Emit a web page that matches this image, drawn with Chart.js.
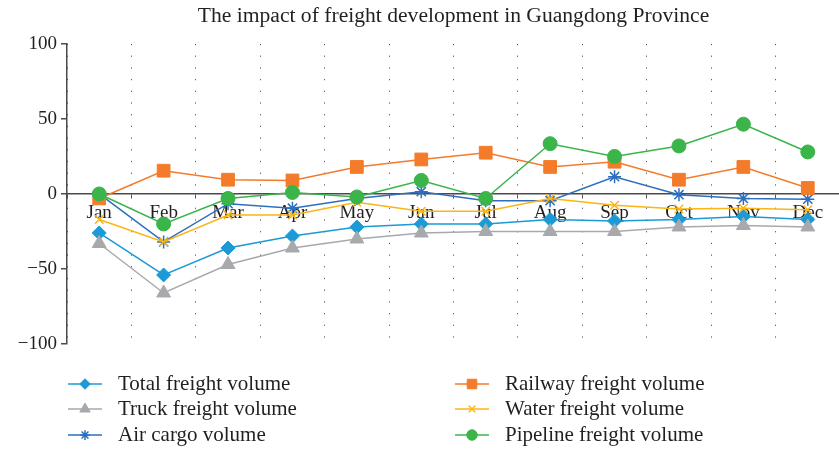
<!DOCTYPE html>
<html>
<head>
<meta charset="utf-8">
<script src="https://cdn.jsdelivr.net/npm/chart.js@4/dist/chart.umd.min.js"></script>
<style>
    html, body { margin: 0; padding: 0; background: #fff; overflow: hidden; }
    #wrap { width: 850px; height: 449px; }
</style>
</head>
<body>
<div id="wrap"><canvas id="freightChart" width="850" height="449"></canvas></div>
<script>
// Dữ liệu
const months = ["Jan", "Feb", "Mar", "Apr", "May", "Jun", "Jul", "Aug", "Sep", "Oct", "Nov", "Dec"];
const totalFreight = [-26, -54, -36, -28, -22, -20, -20, -17, -18, -17, -15, -17];
const truckFreight = [-33, -66, -47, -36, -30, -26, -25, -25, -25, -22, -21, -22];
const airCargo = [0, -32, -6.5, -9.5, -3, 1.5, -4.5, -4.5, 11.5, -0.5, -3, -3.5];
const railwayFreight = [-3, 15.5, 9.5, 9, 18, 23, 27.5, 18, 21.5, 9.5, 18, 4];
const waterFreight = [-17, -32, -14, -14, -5.5, -11.5, -11.5, -3, -7.5, -10, -9.5, -10.5];
const pipelineFreight = [0, -20, -3, 1, -2, 9, -3, 33.5, 25, 32, 46.5, 28];
const yTicks = [100, 50, 0, -50, -100];

const serif = "'Liberation Serif', 'DejaVu Serif', serif";
const textColor = "#231f20";
const axisColor = "#4a4a4a";

function makeSet(label, data, color, style, radius, order) {
    return {
        label: label,
        data: data,
        order: order, // series sau vẽ đè lên series trước
        borderColor: color,
        backgroundColor: color,
        pointBackgroundColor: color,
        pointBorderColor: color,
        pointStyle: style,
        pointRadius: radius,
        pointBorderWidth: (style === "star" || style === "crossRot") ? 1.5 : 1,
        borderWidth: 1.5,
        tension: 0,
    };
}

const datasets = [
    makeSet("Total freight volume", totalFreight, "#1b9ad6", "rectRot", 7, 6),
    makeSet("Railway freight volume", railwayFreight, "#f47b2a", "rect", 9, 3),
    makeSet("Truck freight volume", truckFreight, "#a7a9ac", "triangle", 8, 5),
    makeSet("Water freight volume", waterFreight, "#fbb515", "crossRot", 6, 2),
    makeSet("Air cargo volume", airCargo, "#2d6fbd", "star", 6.5, 4),
    makeSet("Pipeline freight volume", pipelineFreight, "#3bb44a", "circle", 7, 1),
];

// Chú giải 2 cột, vẽ tay dưới biểu đồ
const legendLayout = [
    { idx: 0, x: 68, y: 384 },
    { idx: 2, x: 68, y: 409 },
    { idx: 4, x: 68, y: 435 },
    { idx: 1, x: 455, y: 384 },
    { idx: 3, x: 455, y: 409 },
    { idx: 5, x: 455, y: 435 },
];

const twoColumnLegend = {
    id: "twoColumnLegend",
    afterDraw(chart) {
        const ctx = chart.ctx;
        ctx.save();
        legendLayout.forEach(function (item) {
            const ds = chart.data.datasets[item.idx];
            ctx.strokeStyle = ds.borderColor;
            ctx.lineWidth = 1.5;
            ctx.beginPath();
            ctx.moveTo(item.x, item.y);
            ctx.lineTo(item.x + 34, item.y);
            ctx.stroke();
            ctx.fillStyle = ds.backgroundColor;
            ctx.strokeStyle = ds.borderColor;
            ctx.lineWidth = ds.pointBorderWidth;
            Chart.helpers.drawPoint(ctx, {
                pointStyle: ds.pointStyle,
                radius: ds.pointRadius * 0.75,
                rotation: 0,
                borderWidth: ds.pointBorderWidth,
            }, item.x + 17, item.y);
            ctx.fillStyle = textColor;
            ctx.font = "21px " + serif;
            ctx.textBaseline = "middle";
            ctx.textAlign = "left";
            ctx.fillText(ds.label, item.x + 50, item.y);
        });
        ctx.restore();
    },
};

const ctx = document.getElementById("freightChart").getContext("2d");
const freightChart = new Chart(ctx, {
    type: "line",
    data: { labels: months, datasets: datasets },
    options: {
        responsive: false,
        animation: false,
        layout: { padding: { left: 0, right: 3, top: 0, bottom: 105 } },
        plugins: {
            legend: { display: false },
            tooltip: { enabled: false },
            title: {
                display: true,
                fullSize: false,
                text: "The impact of freight development in Guangdong Province",
                color: textColor,
                font: { family: serif, size: 21.6, weight: "normal" },
                padding: { top: 3, bottom: 15 },
            },
        },
        scales: {
            x: {
                type: "category",
                position: { y: 0 },
                offset: true,
                afterFit(scale) { scale.height = 0; },
                grid: {
                    display: true,
                    drawOnChartArea: true,
                    offset: true,
                    color: "#555",
                    lineWidth: 1,
                    tickLength: 4,
                },
                border: { display: true, color: axisColor, width: 1.5, dash: [1.2, 10.5] },
                ticks: {
                    color: textColor,
                    font: { family: serif, size: 19 },
                    padding: 4,
                    maxRotation: 0,
                    autoSkip: false,
                },
            },
            y: {
                min: -100,
                max: 100,
                afterFit(scale) { scale.width = 67; },
                afterBuildTicks(scale) {
                    scale.ticks = yTicks.map(function (v) { return { value: v }; });
                },
                grid: {
                    drawOnChartArea: false,
                    color: axisColor,
                    lineWidth: 1.5,
                    tickLength: 6,
                },
                border: { display: true, color: axisColor, width: 1.5 },
                ticks: {
                    color: textColor,
                    font: { family: serif, size: 19 },
                    padding: 4,
                    callback: function (value) {
                        return String(value).replace("-", "\u2212");
                    },
                },
            },
        },
    },
    plugins: [twoColumnLegend],
});
</script>
</body>
</html>
